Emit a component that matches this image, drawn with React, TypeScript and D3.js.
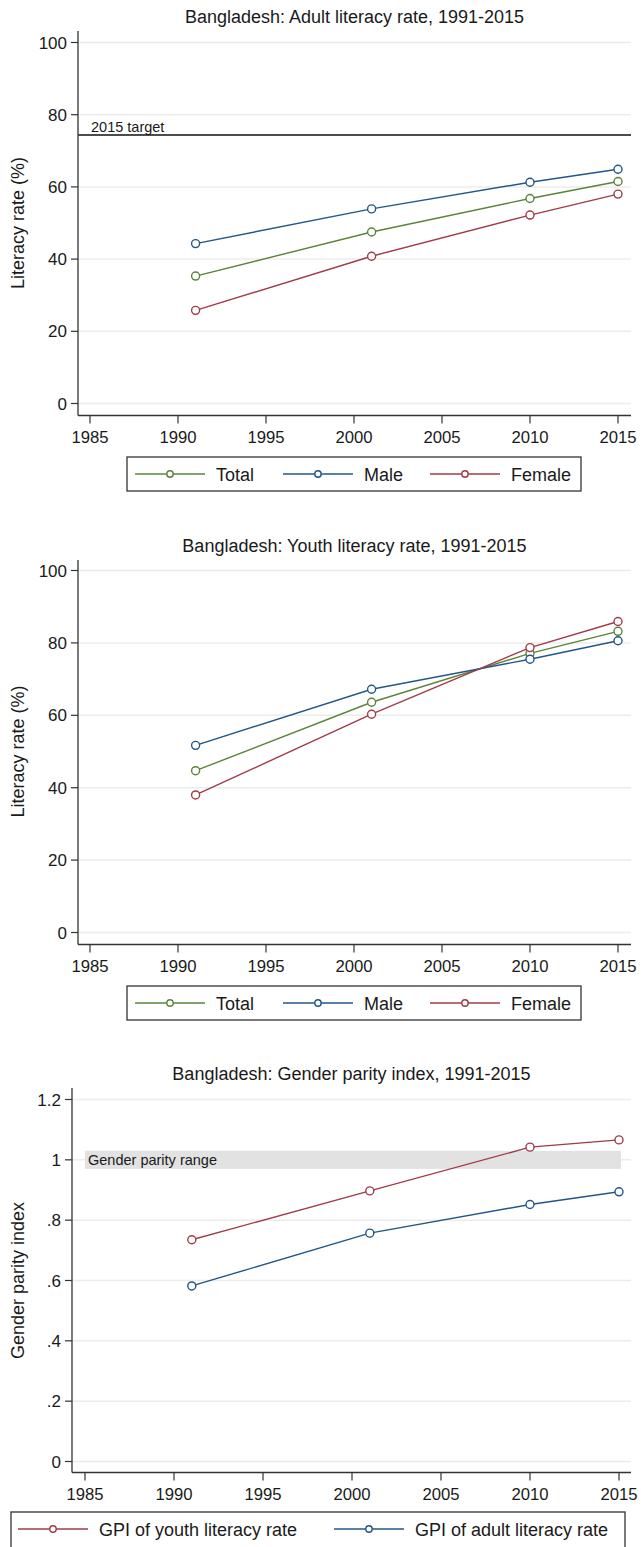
import React from "react";
import * as d3 from "d3";

const years = [1991, 2001, 2010, 2015];
const adultTotal = [35.3, 47.5, 56.8, 61.5];
const adultMale = [44.3, 53.9, 61.3, 64.9];
const adultFemale = [25.8, 40.8, 52.2, 58.0];
const youthTotal = [44.7, 63.6, 77.1, 83.2];
const youthMale = [51.7, 67.2, 75.5, 80.6];
const youthFemale = [38.0, 60.3, 78.7, 85.9];
const gpiYouth = [0.735, 0.897, 1.042, 1.066];
const gpiAdult = [0.582, 0.757, 0.852, 0.894];
const xTicks = [1985, 1990, 1995, 2000, 2005, 2010, 2015];
const literacyTicks = [0, 20, 40, 60, 80, 100];
const gpiTicks = [0, 0.2, 0.4, 0.6, 0.8, 1, 1.2];
const adultTarget = 74.4;
const parityRange = [0.97, 1.03];

const GREEN = "#5a8439";
const BLUE = "#22578a";
const RED = "#a03c47";
const FONT = "'Liberation Sans', Arial, Helvetica, sans-serif";
const TXT = "#1a1a1a";
const AX = "#333";

type Series = { name: string; values: number[]; color: string };
type LegendItem = { name: string; color: string; x: number };

function Panel(props: {
  oy: number;
  left: number;
  yDomain: [number, number];
  yRange: [number, number];
  xRange: [number, number];
  yTicks: number[];
  fmt: (v: number) => string;
  title: string;
  ylabel: string;
  series: Series[];
  legendBox: [number, number, number, number];
  legendItems: LegendItem[];
  children?: (x: any, y: any) => React.ReactNode;
}) {
  const { oy, left, yTicks, fmt } = props;
  const right = 631;
  const top = oy + 31;
  const bottom = oy + 415.5;
  const x = d3.scaleLinear().domain([1985, 2015]).range(props.xRange);
  const y = d3.scaleLinear().domain(props.yDomain).range(props.yRange);
  const line = d3
    .line<number>()
    .x((_, i) => x(years[i]))
    .y((d) => y(d));
  const [lx, ly, lw, lh] = props.legendBox;
  return (
    <g>
      <text
        x={(left + right) / 2}
        y={oy + 22.5}
        textAnchor="middle"
        fontSize={18}
        fill={TXT}
      >
        {props.title}
      </text>
      {yTicks.map((t) => (
        <line
          key={"g" + t}
          x1={left}
          x2={right}
          y1={y(t)}
          y2={y(t)}
          stroke="#ececec"
          strokeWidth={1.5}
        />
      ))}
      {props.children ? props.children(x, y) : null}
      <line x1={left} x2={left} y1={top} y2={bottom} stroke={AX} strokeWidth={1.3} />
      <line x1={left} x2={right} y1={bottom} y2={bottom} stroke={AX} strokeWidth={1.3} />
      {yTicks.map((t) => (
        <g key={"t" + t}>
          <line x1={left - 7} x2={left} y1={y(t)} y2={y(t)} stroke={AX} strokeWidth={1.2} />
          <text
            x={left - 11}
            y={y(t) + 6}
            textAnchor="end"
            fontSize={17}
            fill={TXT}
          >
            {fmt(t)}
          </text>
        </g>
      ))}
      {xTicks.map((t) => (
        <g key={"x" + t}>
          <line x1={x(t)} x2={x(t)} y1={bottom} y2={bottom + 8} stroke={AX} strokeWidth={1.2} />
          <text x={x(t)} y={oy + 443} textAnchor="middle" fontSize={16.7} fill={TXT}>
            {t}
          </text>
        </g>
      ))}
      <text
        transform={`translate(24,${(props.yRange[0] + props.yRange[1]) / 2}) rotate(-90)`}
        textAnchor="middle"
        fontSize={18}
        fill={TXT}
      >
        {props.ylabel}
      </text>
      {props.series.map((s) => (
        <g key={s.name}>
          <path d={line(s.values) || ""} fill="none" stroke={s.color} strokeWidth={1.4} />
          {s.values.map((v, i) => (
            <circle
              key={i}
              cx={x(years[i])}
              cy={y(v)}
              r={4}
              fill="white"
              stroke={s.color}
              strokeWidth={1.4}
            />
          ))}
        </g>
      ))}
      <rect x={lx} y={ly} width={lw} height={lh} fill="white" stroke={AX} strokeWidth={1.3} />
      {props.legendItems.map((it) => (
        <g key={it.name}>
          <line
            x1={it.x}
            x2={it.x + 70}
            y1={ly + 17}
            y2={ly + 17}
            stroke={it.color}
            strokeWidth={1.4}
          />
          <circle cx={it.x + 35} cy={ly + 17} r={3.2} fill="white" stroke={it.color} strokeWidth={1.4} />
          <text x={it.x + 81} y={ly + 23.5} fontSize={18} fill={TXT}>
            {it.name}
          </text>
        </g>
      ))}
    </g>
  );
}

export default function App() {
  const litFmt = (v: number) => String(v);
  const gpiFmt = (v: number) => {
    const s = d3.format(".1f")(v);
    if (v === 0) return "0";
    if (v === 1) return "1";
    return s.startsWith("0") ? s.slice(1) : s;
  };
  const litLegend = (oy: number): LegendItem[] => [
    { name: "Total", color: GREEN, x: 135 },
    { name: "Male", color: BLUE, x: 283 },
    { name: "Female", color: RED, x: 430 },
  ];
  return (
    <svg
      width={641}
      height={1547}
      style={{ position: "absolute", left: 0, top: 0, background: "white", fontFamily: FONT }}
      fontFamily={FONT}
    >
      <rect width={641} height={1547} fill="white" />
      <Panel
        oy={0}
        left={78}
        yDomain={[0, 100]}
        yRange={[403.5, 42.5]}
        xRange={[90, 618]}
        yTicks={literacyTicks}
        fmt={litFmt}
        title="Bangladesh: Adult literacy rate, 1991-2015"
        ylabel="Literacy rate (%)"
        series={[
          { name: "Total", values: adultTotal, color: GREEN },
          { name: "Male", values: adultMale, color: BLUE },
          { name: "Female", values: adultFemale, color: RED },
        ]}
        legendBox={[127, 457, 454, 34]}
        legendItems={litLegend(0)}
      >
        {(x, y) => (
          <g>
            <line x1={78} x2={631} y1={y(adultTarget)} y2={y(adultTarget)} stroke="#111" strokeWidth={1.5} />
            <text x={91} y={y(adultTarget) - 3} fontSize={14.5} fill={TXT}>
              2015 target
            </text>
          </g>
        )}
      </Panel>
      <Panel
        oy={529}
        left={78}
        yDomain={[0, 100]}
        yRange={[932.5, 570.5]}
        xRange={[90, 618]}
        yTicks={literacyTicks}
        fmt={litFmt}
        title="Bangladesh: Youth literacy rate, 1991-2015"
        ylabel="Literacy rate (%)"
        series={[
          { name: "Total", values: youthTotal, color: GREEN },
          { name: "Male", values: youthMale, color: BLUE },
          { name: "Female", values: youthFemale, color: RED },
        ]}
        legendBox={[127, 986, 454, 34]}
        legendItems={litLegend(529)}
      />
      <Panel
        oy={1057}
        left={72}
        yDomain={[0, 1.2]}
        yRange={[1461.5, 1099.5]}
        xRange={[85, 619]}
        yTicks={gpiTicks}
        fmt={gpiFmt}
        title="Bangladesh: Gender parity index, 1991-2015"
        ylabel="Gender parity index"
        series={[
          { name: "GPI of youth literacy rate", values: gpiYouth, color: RED },
          { name: "GPI of adult literacy rate", values: gpiAdult, color: BLUE },
        ]}
        legendBox={[11, 1512, 614, 44]}
        legendItems={[
          { name: "GPI of youth literacy rate", color: RED, x: 18 },
          { name: "GPI of adult literacy rate", color: BLUE, x: 334 },
        ]}
      >
        {(x, y) => (
          <g>
            <rect
              x={x(1985)}
              x2={0}
              y={y(parityRange[1])}
              width={x(2015) - x(1985) + 2}
              height={y(parityRange[0]) - y(parityRange[1])}
              fill="#e2e2e2"
            />
            <text x={x(1985) + 3} y={y(1) + 5} fontSize={14.5} fill={TXT}>
              Gender parity range
            </text>
          </g>
        )}
      </Panel>
    </svg>
  );
}
